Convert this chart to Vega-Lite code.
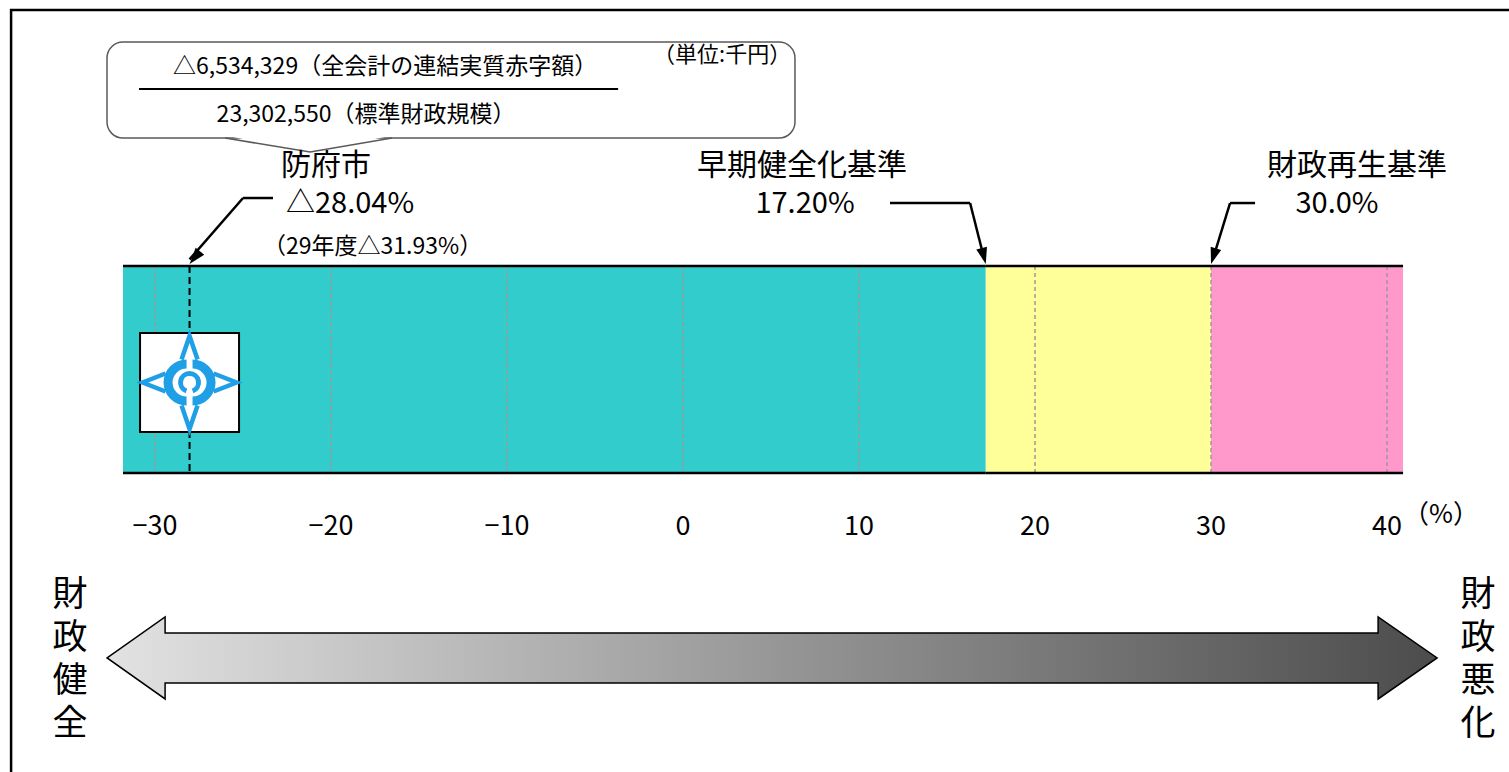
{
  "$schema": "https://vega.github.io/schema/vega-lite/v6.json",
  "width": 1509,
  "height": 772,
  "autosize": {"type": "none"},
  "padding": 0,
  "background": "white",
  "config": {"view": {"stroke": null}, "font": "Noto Sans CJK JP"},
  "data": {"values": [{}]},
  "datasets": {
    "zones": [
      {"stage": "健全段階", "from": -31.82, "to": 17.2},
      {"stage": "早期健全化段階", "from": 17.2, "to": 30},
      {"stage": "財政再生段階", "from": 30, "to": 40.91}
    ],
    "grid": [{"v": -30}, {"v": -20}, {"v": -10}, {"v": 0}, {"v": 10}, {"v": 20}, {"v": 30}, {"v": 40}],
    "city": [{"name": "防府市", "ratio": -28.04}],
    "criteria": [
      {"name": "早期健全化基準", "ratio": 17.2},
      {"name": "財政再生基準", "ratio": 30.0}
    ]
  },
  "layer": [
    {
      "mark": {"type": "rect", "filled": false, "stroke": "#000000", "strokeWidth": 2.5, "clip": true},
      "encoding": {
        "x": {"datum": -38.18, "type": "quantitative", "scale": {"domain": [-38.81, 46.93], "nice": false, "zero": false}, "axis": null},
        "x2": {"datum": 50},
        "y": {"datum": 1.3, "type": "quantitative", "scale": {"domain": [0, 100], "reverse": true, "nice": false, "zero": false}, "axis": null},
        "y2": {"datum": 110}
      }
    },
    {
      "data": {"name": "zones"},
      "mark": {"type": "rect", "stroke": null},
      "encoding": {
        "x": {"field": "from", "type": "quantitative", "scale": {"domain": [-38.81, 46.93], "nice": false, "zero": false}, "axis": null},
        "x2": {"field": "to"},
        "y": {"datum": 34.46, "type": "quantitative", "scale": {"domain": [0, 100], "reverse": true, "nice": false, "zero": false}, "axis": null},
        "y2": {"datum": 61.27},
        "color": {"field": "stage", "type": "nominal", "legend": null,
          "scale": {"domain": ["健全段階", "早期健全化段階", "財政再生段階"], "range": ["#33CCCC", "#FFFF99", "#FF99CC"]}}
      }
    },
    {
      "data": {"name": "grid"},
      "mark": {"type": "rule", "stroke": "#9a9a9a", "strokeWidth": 1.5, "strokeDash": [4, 3]},
      "encoding": {
        "x": {"field": "v", "type": "quantitative", "scale": {"domain": [-38.81, 46.93], "nice": false, "zero": false}, "axis": null},
        "y": {"datum": 34.46, "type": "quantitative", "scale": {"domain": [0, 100], "reverse": true, "nice": false, "zero": false}, "axis": null},
        "y2": {"datum": 61.27}
      }
    },
    {
      "data": {"name": "grid"},
      "mark": {"type": "text", "fontSize": 27, "align": "center", "baseline": "middle", "color": "#000000"},
      "encoding": {
        "x": {"field": "v", "type": "quantitative", "scale": {"domain": [-38.81, 46.93], "nice": false, "zero": false}, "axis": null},
        "y": {"datum": 68.26, "type": "quantitative", "scale": {"domain": [0, 100], "reverse": true, "nice": false, "zero": false}, "axis": null},
        "text": {"field": "v", "type": "quantitative", "format": "d"}
      }
    },
    {
      "data": {"name": "zones"},
      "mark": {"type": "rule", "stroke": "#000000", "strokeWidth": 2.5},
      "encoding": {
        "x": {"field": "from", "type": "quantitative", "scale": {"domain": [-38.81, 46.93], "nice": false, "zero": false}, "axis": null},
        "x2": {"field": "to"},
        "y": {"datum": 34.46, "type": "quantitative", "scale": {"domain": [0, 100], "reverse": true, "nice": false, "zero": false}, "axis": null}
      }
    },
    {
      "data": {"name": "zones"},
      "mark": {"type": "rule", "stroke": "#000000", "strokeWidth": 2.5},
      "encoding": {
        "x": {"field": "from", "type": "quantitative", "scale": {"domain": [-38.81, 46.93], "nice": false, "zero": false}, "axis": null},
        "x2": {"field": "to"},
        "y": {"datum": 61.27, "type": "quantitative", "scale": {"domain": [0, 100], "reverse": true, "nice": false, "zero": false}, "axis": null}
      }
    },
    {
      "data": {"name": "city"},
      "mark": {"type": "rule", "stroke": "#000000", "strokeWidth": 2, "strokeDash": [7, 4]},
      "encoding": {
        "x": {"field": "ratio", "type": "quantitative", "scale": {"domain": [-38.81, 46.93], "nice": false, "zero": false}, "axis": null},
        "y": {"datum": 34.46, "type": "quantitative", "scale": {"domain": [0, 100], "reverse": true, "nice": false, "zero": false}, "axis": null},
        "y2": {"datum": 61.27}
      }
    },
    {
      "data": {"name": "city"},
      "mark": {"type": "point", "shape": "square", "size": 9801, "filled": true, "fill": "#ffffff", "stroke": "#000000", "strokeWidth": 2, "opacity": 1},
      "encoding": {
        "x": {"field": "ratio", "type": "quantitative", "scale": {"domain": [-38.81, 46.93], "nice": false, "zero": false}, "axis": null},
        "y": {"datum": 49.55, "type": "quantitative", "scale": {"domain": [0, 100], "reverse": true, "nice": false, "zero": false}, "axis": null}
      }
    },
    {
      "data": {"name": "city"},
      "mark": {"type": "point", "shape": "M0.06,-0.37 A0.37,0.37 0 0,1 0.06,0.37 M-0.06,0.37 A0.37,0.37 0 0,1 -0.06,-0.37", "size": 10000, "filled": false, "stroke": "#1E9FE6", "strokeWidth": 9, "opacity": 1},
      "encoding": {
        "x": {"field": "ratio", "type": "quantitative", "scale": {"domain": [-38.81, 46.93], "nice": false, "zero": false}, "axis": null},
        "y": {"datum": 49.55, "type": "quantitative", "scale": {"domain": [0, 100], "reverse": true, "nice": false, "zero": false}, "axis": null}
      }
    },
    {
      "data": {"name": "city"},
      "mark": {"type": "point", "shape": "M-0.062,0.169 A0.18,0.18 0 1,1 0.062,0.169", "size": 10000, "filled": false, "stroke": "#1E9FE6", "strokeWidth": 5, "opacity": 1},
      "encoding": {
        "x": {"field": "ratio", "type": "quantitative", "scale": {"domain": [-38.81, 46.93], "nice": false, "zero": false}, "axis": null},
        "y": {"datum": 49.55, "type": "quantitative", "scale": {"domain": [0, 100], "reverse": true, "nice": false, "zero": false}, "axis": null}
      }
    },
    {
      "data": {"name": "city"},
      "mark": {"type": "point", "shape": "M-0.16,-0.46 L0,-0.93 L0.16,-0.46 M-0.16,0.46 L0,0.93 L0.16,0.46 M-0.48,-0.18 L-0.94,0 L-0.48,0.18 M0.48,-0.18 L0.94,0 L0.48,0.18", "size": 10000, "filled": false, "stroke": "#1E9FE6", "strokeWidth": 4.5, "opacity": 1},
      "encoding": {
        "x": {"field": "ratio", "type": "quantitative", "scale": {"domain": [-38.81, 46.93], "nice": false, "zero": false}, "axis": null},
        "y": {"datum": 49.55, "type": "quantitative", "scale": {"domain": [0, 100], "reverse": true, "nice": false, "zero": false}, "axis": null}
      }
    },
    {
      "mark": {"type": "rect", "fill": "#ffffff", "stroke": "#5a5a5a", "strokeWidth": 1.5, "cornerRadius": 16},
      "encoding": {
        "x": {"datum": -32.73, "type": "quantitative", "scale": {"domain": [-38.81, 46.93], "nice": false, "zero": false}, "axis": null},
        "x2": {"datum": 6.36},
        "y": {"datum": 5.44, "type": "quantitative", "scale": {"domain": [0, 100], "reverse": true, "nice": false, "zero": false}, "axis": null},
        "y2": {"datum": 17.88}
      }
    },
    {
      "mark": {"type": "point", "shape": "M-8.5,-0.25 L0,1.4 L8.2,-0.25 Z", "size": 400, "filled": true, "fill": "#ffffff", "strokeWidth": 0, "opacity": 1},
      "encoding": {
        "x": {"datum": -21.19, "type": "quantitative", "scale": {"domain": [-38.81, 46.93], "nice": false, "zero": false}, "axis": null},
        "y": {"datum": 17.88, "type": "quantitative", "scale": {"domain": [0, 100], "reverse": true, "nice": false, "zero": false}, "axis": null}
      }
    },
    {
      "mark": {"type": "point", "shape": "M-8.5,0 L0,1.4 L8.2,0", "size": 400, "filled": false, "stroke": "#5a5a5a", "strokeWidth": 1.5, "opacity": 1},
      "encoding": {
        "x": {"datum": -21.19, "type": "quantitative", "scale": {"domain": [-38.81, 46.93], "nice": false, "zero": false}, "axis": null},
        "y": {"datum": 17.88, "type": "quantitative", "scale": {"domain": [0, 100], "reverse": true, "nice": false, "zero": false}, "axis": null}
      }
    },
    {
      "mark": {"type": "rule", "stroke": "#000000", "strokeWidth": 2},
      "encoding": {
        "x": {"datum": -30.91, "type": "quantitative", "scale": {"domain": [-38.81, 46.93], "nice": false, "zero": false}, "axis": null},
        "x2": {"datum": -3.69},
        "y": {"datum": 11.53, "type": "quantitative", "scale": {"domain": [0, 100], "reverse": true, "nice": false, "zero": false}, "axis": null}
      }
    },
    {
      "mark": {"type": "text", "text": "△6,534,329（全会計の連結実質赤字額）", "fontSize": 23, "align": "center", "baseline": "middle", "color": "#000000"},
      "encoding": {
        "x": {"datum": -16.93, "type": "quantitative", "scale": {"domain": [-38.81, 46.93], "nice": false, "zero": false}, "axis": null},
        "y": {"datum": 8.68, "type": "quantitative", "scale": {"domain": [0, 100], "reverse": true, "nice": false, "zero": false}, "axis": null}
      }
    },
    {
      "mark": {"type": "text", "text": "23,302,550（標準財政規模）", "fontSize": 23, "align": "center", "baseline": "middle", "color": "#000000"},
      "encoding": {
        "x": {"datum": -18.01, "type": "quantitative", "scale": {"domain": [-38.81, 46.93], "nice": false, "zero": false}, "axis": null},
        "y": {"datum": 14.9, "type": "quantitative", "scale": {"domain": [0, 100], "reverse": true, "nice": false, "zero": false}, "axis": null}
      }
    },
    {
      "mark": {"type": "text", "text": "（単位:千円）", "fontSize": 22, "align": "center", "baseline": "middle", "color": "#000000"},
      "encoding": {
        "x": {"datum": 2.22, "type": "quantitative", "scale": {"domain": [-38.81, 46.93], "nice": false, "zero": false}, "axis": null},
        "y": {"datum": 7.12, "type": "quantitative", "scale": {"domain": [0, 100], "reverse": true, "nice": false, "zero": false}, "axis": null}
      }
    },
    {
      "data": {"name": "city"},
      "mark": {"type": "text", "fontSize": 30, "align": "center", "baseline": "middle", "color": "#000000"},
      "encoding": {
        "x": {"datum": -20.28, "type": "quantitative", "scale": {"domain": [-38.81, 46.93], "nice": false, "zero": false}, "axis": null},
        "y": {"datum": 21.5, "type": "quantitative", "scale": {"domain": [0, 100], "reverse": true, "nice": false, "zero": false}, "axis": null},
        "text": {"field": "name"}
      }
    },
    {
      "mark": {"type": "text", "text": "△28.04%", "fontSize": 29, "align": "center", "baseline": "middle", "color": "#000000"},
      "encoding": {
        "x": {"datum": -18.92, "type": "quantitative", "scale": {"domain": [-38.81, 46.93], "nice": false, "zero": false}, "axis": null},
        "y": {"datum": 26.42, "type": "quantitative", "scale": {"domain": [0, 100], "reverse": true, "nice": false, "zero": false}, "axis": null}
      }
    },
    {
      "mark": {"type": "text", "text": "（29年度△31.93%）", "fontSize": 23, "align": "center", "baseline": "middle", "color": "#000000"},
      "encoding": {
        "x": {"datum": -17.64, "type": "quantitative", "scale": {"domain": [-38.81, 46.93], "nice": false, "zero": false}, "axis": null},
        "y": {"datum": 32.0, "type": "quantitative", "scale": {"domain": [0, 100], "reverse": true, "nice": false, "zero": false}, "axis": null}
      }
    },
    {
      "mark": {"type": "text", "text": "早期健全化基準", "fontSize": 30, "align": "center", "baseline": "middle", "color": "#000000"},
      "encoding": {
        "x": {"datum": 6.76, "type": "quantitative", "scale": {"domain": [-38.81, 46.93], "nice": false, "zero": false}, "axis": null},
        "y": {"datum": 21.5, "type": "quantitative", "scale": {"domain": [0, 100], "reverse": true, "nice": false, "zero": false}, "axis": null}
      }
    },
    {
      "mark": {"type": "text", "text": "17.20%", "fontSize": 29, "align": "center", "baseline": "middle", "color": "#000000"},
      "encoding": {
        "x": {"datum": 6.93, "type": "quantitative", "scale": {"domain": [-38.81, 46.93], "nice": false, "zero": false}, "axis": null},
        "y": {"datum": 26.42, "type": "quantitative", "scale": {"domain": [0, 100], "reverse": true, "nice": false, "zero": false}, "axis": null}
      }
    },
    {
      "mark": {"type": "text", "text": "財政再生基準", "fontSize": 30, "align": "center", "baseline": "middle", "color": "#000000"},
      "encoding": {
        "x": {"datum": 38.3, "type": "quantitative", "scale": {"domain": [-38.81, 46.93], "nice": false, "zero": false}, "axis": null},
        "y": {"datum": 21.5, "type": "quantitative", "scale": {"domain": [0, 100], "reverse": true, "nice": false, "zero": false}, "axis": null}
      }
    },
    {
      "mark": {"type": "text", "text": "30.0%", "fontSize": 29, "align": "center", "baseline": "middle", "color": "#000000"},
      "encoding": {
        "x": {"datum": 37.16, "type": "quantitative", "scale": {"domain": [-38.81, 46.93], "nice": false, "zero": false}, "axis": null},
        "y": {"datum": 26.42, "type": "quantitative", "scale": {"domain": [0, 100], "reverse": true, "nice": false, "zero": false}, "axis": null}
      }
    },
    {
      "mark": {"type": "rule", "stroke": "#000000", "strokeWidth": 2.5},
      "encoding": {
        "x": {"datum": -23.3, "type": "quantitative", "scale": {"domain": [-38.81, 46.93], "nice": false, "zero": false}, "axis": null},
        "x2": {"datum": -25.0},
        "y": {"datum": 25.65, "type": "quantitative", "scale": {"domain": [0, 100], "reverse": true, "nice": false, "zero": false}, "axis": null}
      }
    },
    {
      "data": {"name": "city"},
      "mark": {"type": "rule", "stroke": "#000000", "strokeWidth": 2.5},
      "encoding": {
        "x": {"field": "ratio", "type": "quantitative", "scale": {"domain": [-38.81, 46.93], "nice": false, "zero": false}, "axis": null},
        "x2": {"datum": -25.0},
        "y": {"datum": 33.6, "type": "quantitative", "scale": {"domain": [0, 100], "reverse": true, "nice": false, "zero": false}, "axis": null},
        "y2": {"datum": 25.65}
      }
    },
    {
      "data": {"name": "city"},
      "mark": {"type": "point", "shape": "M0,0 L-1.1,-3.3 L1.1,-3.3 Z", "size": 100, "filled": true, "fill": "#000000", "strokeWidth": 0, "opacity": 1, "angle": 39},
      "encoding": {
        "x": {"field": "ratio", "type": "quantitative", "scale": {"domain": [-38.81, 46.93], "nice": false, "zero": false}, "axis": null},
        "y": {"datum": 34.2, "type": "quantitative", "scale": {"domain": [0, 100], "reverse": true, "nice": false, "zero": false}, "axis": null}
      }
    },
    {
      "mark": {"type": "rule", "stroke": "#000000", "strokeWidth": 2.5},
      "encoding": {
        "x": {"datum": 11.76, "type": "quantitative", "scale": {"domain": [-38.81, 46.93], "nice": false, "zero": false}, "axis": null},
        "x2": {"datum": 16.31},
        "y": {"datum": 26.3, "type": "quantitative", "scale": {"domain": [0, 100], "reverse": true, "nice": false, "zero": false}, "axis": null}
      }
    },
    {
      "mark": {"type": "rule", "stroke": "#000000", "strokeWidth": 2.5},
      "encoding": {
        "x": {"datum": 16.31, "type": "quantitative", "scale": {"domain": [-38.81, 46.93], "nice": false, "zero": false}, "axis": null},
        "x2": {"datum": 17.12},
        "y": {"datum": 26.3, "type": "quantitative", "scale": {"domain": [0, 100], "reverse": true, "nice": false, "zero": false}, "axis": null},
        "y2": {"datum": 33.6}
      }
    },
    {
      "mark": {"type": "rule", "stroke": "#000000", "strokeWidth": 2.5},
      "encoding": {
        "x": {"datum": 32.5, "type": "quantitative", "scale": {"domain": [-38.81, 46.93], "nice": false, "zero": false}, "axis": null},
        "x2": {"datum": 31.08},
        "y": {"datum": 26.3, "type": "quantitative", "scale": {"domain": [0, 100], "reverse": true, "nice": false, "zero": false}, "axis": null}
      }
    },
    {
      "mark": {"type": "rule", "stroke": "#000000", "strokeWidth": 2.5},
      "encoding": {
        "x": {"datum": 31.08, "type": "quantitative", "scale": {"domain": [-38.81, 46.93], "nice": false, "zero": false}, "axis": null},
        "x2": {"datum": 30.1},
        "y": {"datum": 26.3, "type": "quantitative", "scale": {"domain": [0, 100], "reverse": true, "nice": false, "zero": false}, "axis": null},
        "y2": {"datum": 33.6}
      }
    },
    {
      "data": {"name": "criteria"},
      "transform": [{"filter": "datum.ratio < 20"}],
      "mark": {"type": "point", "shape": "M0,0 L-1.1,-3.3 L1.1,-3.3 Z", "size": 100, "filled": true, "fill": "#000000", "strokeWidth": 0, "opacity": 1, "angle": 345.6},
      "encoding": {
        "x": {"field": "ratio", "type": "quantitative", "scale": {"domain": [-38.81, 46.93], "nice": false, "zero": false}, "axis": null},
        "y": {"datum": 34.2, "type": "quantitative", "scale": {"domain": [0, 100], "reverse": true, "nice": false, "zero": false}, "axis": null}
      }
    },
    {
      "data": {"name": "criteria"},
      "transform": [{"filter": "datum.ratio >= 20"}],
      "mark": {"type": "point", "shape": "M0,0 L-1.1,-3.3 L1.1,-3.3 Z", "size": 100, "filled": true, "fill": "#000000", "strokeWidth": 0, "opacity": 1, "angle": 17.3},
      "encoding": {
        "x": {"field": "ratio", "type": "quantitative", "scale": {"domain": [-38.81, 46.93], "nice": false, "zero": false}, "axis": null},
        "y": {"datum": 34.2, "type": "quantitative", "scale": {"domain": [0, 100], "reverse": true, "nice": false, "zero": false}, "axis": null}
      }
    },
    {
      "mark": {"type": "text", "text": "（%）", "fontSize": 26, "align": "center", "baseline": "middle", "color": "#000000"},
      "encoding": {
        "x": {"datum": 43.07, "type": "quantitative", "scale": {"domain": [-38.81, 46.93], "nice": false, "zero": false}, "axis": null},
        "y": {"datum": 66.71, "type": "quantitative", "scale": {"domain": [0, 100], "reverse": true, "nice": false, "zero": false}, "axis": null}
      }
    },
    {
      "mark": {"type": "point", "shape": "M-66.5,0 L-60.7,-4.1 L-60.7,-2.5 L60.6,-2.5 L60.6,-4.1 L66.5,0 L60.6,4.1 L60.6,2.5 L-60.7,2.5 L-60.7,4.1 Z", "size": 400, "filled": true,
        "fill": {"gradient": "linear", "x1": 0, "y1": 0, "x2": 1, "y2": 0, "stops": [{"offset": 0, "color": "#e2e2e2"}, {"offset": 1, "color": "#4c4c4c"}]},
        "stroke": "#000000", "strokeWidth": 1.5, "opacity": 1},
      "encoding": {
        "x": {"datum": 5.06, "type": "quantitative", "scale": {"domain": [-38.81, 46.93], "nice": false, "zero": false}, "axis": null},
        "y": {"datum": 85.23, "type": "quantitative", "scale": {"domain": [0, 100], "reverse": true, "nice": false, "zero": false}, "axis": null}
      }
    },
    {
      "mark": {"type": "text", "text": ["財", "政", "健", "全"], "fontSize": 35, "lineHeight": 43, "align": "center", "baseline": "top", "color": "#000000"},
      "encoding": {
        "x": {"datum": -34.83, "type": "quantitative", "scale": {"domain": [-38.81, 46.93], "nice": false, "zero": false}, "axis": null},
        "y": {"datum": 74.87, "type": "quantitative", "scale": {"domain": [0, 100], "reverse": true, "nice": false, "zero": false}, "axis": null}
      }
    },
    {
      "mark": {"type": "text", "text": ["財", "政", "悪", "化"], "fontSize": 35, "lineHeight": 43, "align": "center", "baseline": "top", "color": "#000000"},
      "encoding": {
        "x": {"datum": 45.17, "type": "quantitative", "scale": {"domain": [-38.81, 46.93], "nice": false, "zero": false}, "axis": null},
        "y": {"datum": 74.87, "type": "quantitative", "scale": {"domain": [0, 100], "reverse": true, "nice": false, "zero": false}, "axis": null}
      }
    }
  ]
}
